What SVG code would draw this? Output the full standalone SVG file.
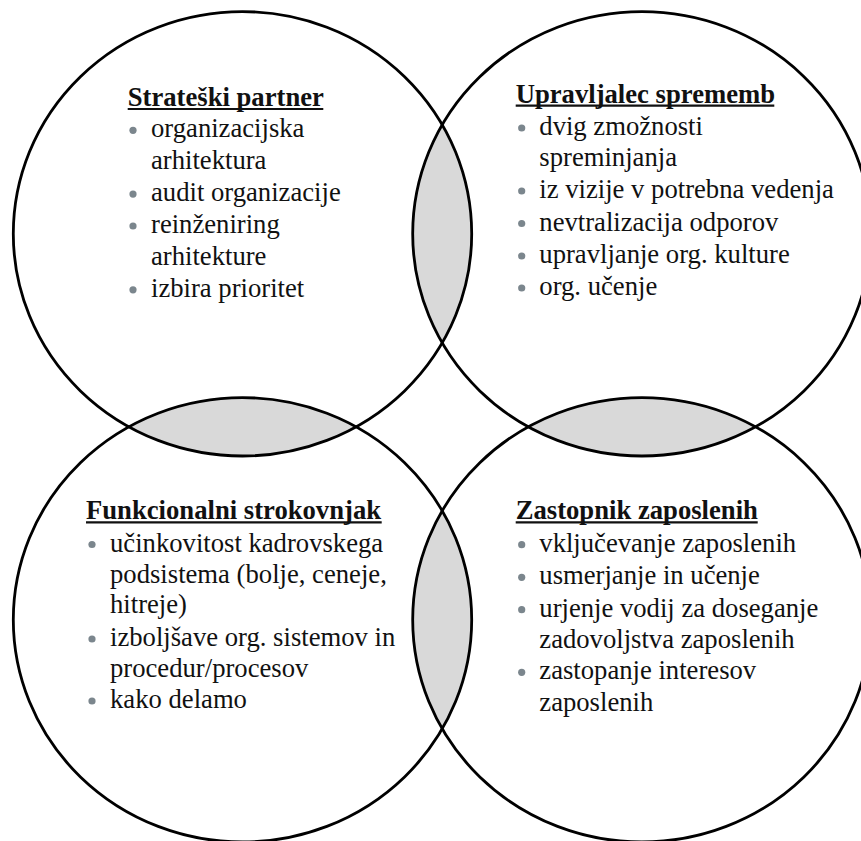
<svg xmlns="http://www.w3.org/2000/svg" xmlns:xlink="http://www.w3.org/1999/xlink" width="861" height="841" viewBox="0 0 861 841">
  <style>
    .ring { fill: none; stroke: #000; stroke-width: 2.8; }
    .lens { fill: #d9d9d9; stroke: none; }
    .head { font-weight: bold; }
    .uline { stroke: #111; stroke-width: 2.2; }
    .dot { fill: #7b868d; }
  </style>
  <defs>
    <ellipse id="eTL" cx="242.5" cy="233.8" rx="229.2" ry="222.2"/>
    <ellipse id="eTR" cx="641.9" cy="233.8" rx="229.2" ry="222.2"/>
    <ellipse id="eBL" cx="242.5" cy="619.8" rx="229.2" ry="222.2"/>
    <ellipse id="eBR" cx="641.9" cy="619.8" rx="229.2" ry="222.2"/>
    <clipPath id="cTL"><use xlink:href="#eTL"/></clipPath>
    <clipPath id="cBR"><use xlink:href="#eBR"/></clipPath>
  </defs>

  <!-- shaded overlaps between neighbouring circles -->
  <g id="overlaps">
    <use xlink:href="#eTR" class="lens" clip-path="url(#cTL)"/>
    <use xlink:href="#eBL" class="lens" clip-path="url(#cTL)"/>
    <use xlink:href="#eTR" class="lens" clip-path="url(#cBR)"/>
    <use xlink:href="#eBL" class="lens" clip-path="url(#cBR)"/>
  </g>

  <g id="strateski-partner" font-family="Liberation Serif, Times New Roman, serif" font-size="26.67" fill="#111">
    <use xlink:href="#eTL" class="ring"/>
    <text class="head" x="127.7" y="106">Strateški partner</text>
    <line class="uline" x1="127.7" y1="109" x2="323.3" y2="109"/>
    <circle class="dot" cx="133" cy="130.3" r="3.6"/>
    <text x="151" y="137.3">organizacijska</text>
    <text x="151" y="169.2">arhitektura</text>
    <circle class="dot" cx="133" cy="194.1" r="3.6"/>
    <text x="151" y="201.1">audit organizacije</text>
    <circle class="dot" cx="133" cy="226" r="3.6"/>
    <text x="151" y="233">reinženiring</text>
    <text x="151" y="264.9">arhitekture</text>
    <circle class="dot" cx="133" cy="289.8" r="3.6"/>
    <text x="151" y="296.8">izbira prioritet</text>
  </g>

  <g id="upravljalec-sprememb" font-family="Liberation Serif, Times New Roman, serif" font-size="26.67" fill="#111">
    <use xlink:href="#eTR" class="ring"/>
    <text class="head" x="515.7" y="102.7">Upravljalec sprememb</text>
    <line class="uline" x1="515.7" y1="105.7" x2="774.3" y2="105.7"/>
    <circle class="dot" cx="521.7" cy="128" r="3.6"/>
    <text x="539.3" y="135">dvig zmožnosti</text>
    <text x="539.3" y="166">spreminjanja</text>
    <circle class="dot" cx="521.7" cy="191" r="3.6"/>
    <text x="539.3" y="198">iz vizije v potrebna vedenja</text>
    <circle class="dot" cx="521.7" cy="223.5" r="3.6"/>
    <text x="539.3" y="230.5">nevtralizacija odporov</text>
    <circle class="dot" cx="521.7" cy="256" r="3.6"/>
    <text x="539.3" y="263">upravljanje org. kulture</text>
    <circle class="dot" cx="521.7" cy="288" r="3.6"/>
    <text x="539.3" y="295">org. učenje</text>
  </g>

  <g id="funkcionalni-strokovnjak" font-family="Liberation Serif, Times New Roman, serif" font-size="26.67" fill="#111">
    <use xlink:href="#eBL" class="ring"/>
    <text class="head" x="86" y="519.3">Funkcionalni strokovnjak</text>
    <line class="uline" x1="86" y1="522.3" x2="381.7" y2="522.3"/>
    <circle class="dot" cx="92" cy="544.5" r="3.6"/>
    <text x="110" y="551.5">učinkovitost kadrovskega</text>
    <text x="110" y="582.7">podsistema (bolje, ceneje,</text>
    <text x="110" y="613">hitreje)</text>
    <circle class="dot" cx="92" cy="639" r="3.6"/>
    <text x="110" y="646">izboljšave org. sistemov in</text>
    <text x="110" y="676.5">procedur/procesov</text>
    <circle class="dot" cx="92" cy="701" r="3.6"/>
    <text x="110" y="708">kako delamo</text>
  </g>

  <g id="zastopnik-zaposlenih" font-family="Liberation Serif, Times New Roman, serif" font-size="26.67" fill="#111">
    <use xlink:href="#eBR" class="ring"/>
    <text class="head" x="515.7" y="519.3">Zastopnik zaposlenih</text>
    <line class="uline" x1="515.7" y1="522.3" x2="757.7" y2="522.3"/>
    <circle class="dot" cx="521.7" cy="544.7" r="3.6"/>
    <text x="539.3" y="551.7">vključevanje zaposlenih</text>
    <circle class="dot" cx="521.7" cy="577.3" r="3.6"/>
    <text x="539.3" y="584.3">usmerjanje in učenje</text>
    <circle class="dot" cx="521.7" cy="609.7" r="3.6"/>
    <text x="539.3" y="616.7">urjenje vodij za doseganje</text>
    <text x="539.3" y="647.5">zadovoljstva zaposlenih</text>
    <circle class="dot" cx="521.7" cy="672.3" r="3.6"/>
    <text x="539.3" y="679.3">zastopanje interesov</text>
    <text x="539.3" y="710.7">zaposlenih</text>
  </g>
</svg>
